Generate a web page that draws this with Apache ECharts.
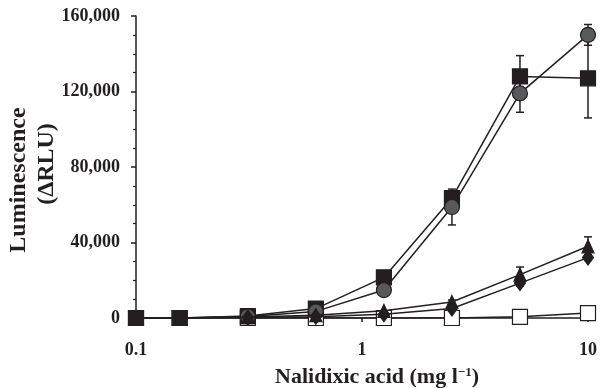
<!DOCTYPE html>
<html>
<head>
<meta charset="utf-8">
<script src="https://cdn.jsdelivr.net/npm/echarts@6/dist/echarts.min.js"></script>
<style>
  html, body { margin: 0; padding: 0; background: #fff; }
  #chart { width: 601px; height: 388px; }
</style>
</head>
<body>
<div id="chart"></div>
<script>
// nalidixic acid concentrations (mg l-1)
const concentrations = [0.1, 0.156, 0.3125, 0.625, 1.25, 2.5, 5, 10];

// luminescence (delta RLU) per strain
const squareValues = [0, 0, 1000, 5000, 21500, 63500, 128000, 127000];
const circleValues = [0, 0, 800, 3500, 14800, 58800, 119000, 150000];
const triangleValues = [0, 0, 500, 1500, 3800, 8500, 23000, 38000];
const diamondValues = [0, 0, 300, 700, 2000, 5000, 18500, 32000];
const openSquareValues = [0, 0, 0, 0, 0, 0, 600, 2600];

// error bars (+/-)
const squareErrors = [0, 0, 0, 0, 800, 3000, 11000, 21000];
const circleErrors = [0, 0, 0, 0, 800, 9500, 10000, 5500];
const triangleErrors = [0, 0, 0, 0, 0, 1000, 4000, 5000];
const diamondErrors = [0, 0, 0, 0, 0, 800, 1500, 1500];
const openSquareErrors = [0, 0, 0, 0, 0, 0, 0, 0];

const yTicks = [0, 40000, 80000, 120000, 160000];

const ink = "#231f20";
const serif = "'Liberation Serif', 'DejaVu Serif', serif";

// symbols of the later strains are hidden under the first filled square at the two lowest doses
function points(values, hideFirst) {
  return concentrations.map((x, i) =>
    i < hideFirst ? { value: [x, values[i]], symbol: "none" } : [x, values[i]]
  );
}

function errorData(values, errors) {
  return concentrations
    .map((x, i) => [x, values[i], errors[i]])
    .filter(d => d[2] > 0);
}

function errorBars(values, errors) {
  return {
    type: "custom",
    z: 1,
    silent: true,
    data: errorData(values, errors),
    renderItem(params, api) {
      const x = api.value(0), y = api.value(1), e = api.value(2);
      const top = api.coord([x, y + e]);
      const bottom = api.coord([x, y - e]);
      const cap = 4;
      const style = { stroke: ink, lineWidth: 1.5 };
      return {
        type: "group",
        children: [
          { type: "line", shape: { x1: top[0], y1: top[1], x2: bottom[0], y2: bottom[1] }, style },
          { type: "line", shape: { x1: top[0] - cap, y1: top[1], x2: top[0] + cap, y2: top[1] }, style },
          { type: "line", shape: { x1: bottom[0] - cap, y1: bottom[1], x2: bottom[0] + cap, y2: bottom[1] }, style }
        ]
      };
    }
  };
}

function lineSeries(values, symbol, size, fill, z, hideFirst) {
  return {
    type: "line",
    z: z,
    data: points(values, hideFirst),
    symbol: symbol,
    symbolSize: size,
    showAllSymbol: true,
    lineStyle: { color: ink, width: 1.5 },
    itemStyle: { color: fill, borderColor: ink, borderWidth: 1.2 },
    emphasis: { disabled: true },
    animation: false
  };
}

const chart = echarts.init(document.getElementById("chart"));

chart.setOption({
  animation: false,
  grid: { left: 136, right: 13, top: 16, bottom: 70, outerBoundsMode: "none", containLabel: false },
  graphic: [
    {
      type: "text",
      x: 19, y: 180, rotation: Math.PI / 2,
      style: { text: "Luminescence", font: "bold 24px " + serif, fill: ink, align: "center", verticalAlign: "middle" }
    },
    {
      type: "text",
      x: 47, y: 164, rotation: Math.PI / 2,
      style: { text: "(ΔRLU)", font: "bold 24px " + serif, fill: ink, align: "center", verticalAlign: "middle" }
    }
  ],
  xAxis: {
    type: "log",
    logBase: 10,
    min: 0.1,
    max: 10,
    name: "{a|Nalidixic acid (mg l}{s|−1}{a|)}",
    nameLocation: "middle",
    nameGap: 48,
    nameTextStyle: {
      padding: [0, 0, 0, 30],
      rich: {
        a: { fontFamily: serif, fontWeight: "bold", fontSize: 22, color: ink },
        s: { fontFamily: serif, fontWeight: "bold", fontSize: 13, color: ink, verticalAlign: "top", padding: [0, 0, 10, 0] }
      }
    },
    axisLine: { lineStyle: { color: ink, width: 1.5 } },
    axisTick: { show: true, inside: false, length: 4, lineStyle: { color: ink, width: 1.5 } },
    minorTick: { show: false },
    splitLine: { show: false },
    axisLabel: {
      margin: 23,
      fontFamily: serif,
      fontWeight: "bold",
      fontSize: 18,
      color: ink,
      formatter: v => String(v)
    }
  },
  yAxis: {
    type: "value",
    min: yTicks[0],
    max: yTicks[yTicks.length - 1],
    interval: yTicks[1] - yTicks[0],
    axisLine: { show: true, lineStyle: { color: ink, width: 1.5 } },
    axisTick: { show: true, length: 5, lineStyle: { color: ink, width: 1.5 } },
    minorTick: { show: true, splitNumber: 4, length: 3, lineStyle: { color: ink, width: 1.2 } },
    splitLine: { show: false },
    axisLabel: {
      margin: 16,
      fontFamily: serif,
      fontWeight: "bold",
      fontSize: 18,
      color: ink,
      formatter: v => v.toLocaleString("en-US")
    }
  },
  series: [
    errorBars(openSquareValues, openSquareErrors),
    errorBars(squareValues, squareErrors),
    errorBars(circleValues, circleErrors),
    errorBars(triangleValues, triangleErrors),
    errorBars(diamondValues, diamondErrors),
    lineSeries(openSquareValues, "rect", 15, "#ffffff", 2, 0),
    lineSeries(squareValues, "rect", 15, ink, 3, 0),
    lineSeries(circleValues, "circle", 15, "#58595b", 4, 2),
    lineSeries(triangleValues, "triangle", [12, 13], ink, 5, 2),
    lineSeries(diamondValues, "diamond", [11, 15], ink, 6, 2)
  ]
});
</script>
</body>
</html>
